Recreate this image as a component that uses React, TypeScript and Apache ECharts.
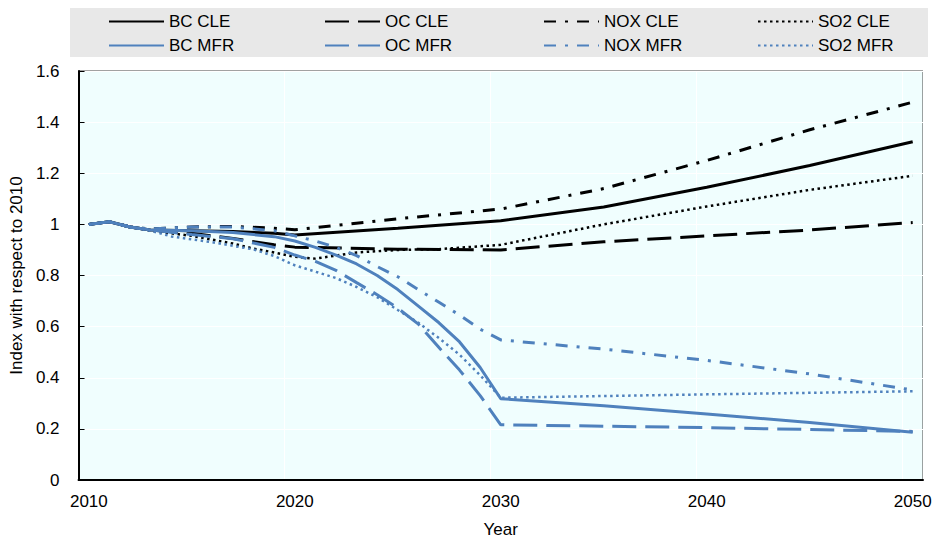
import React, { useEffect, useRef } from "react";
import * as echarts from "echarts";

const categories: string[] = Array.from({ length: 41 }, (_, i) => String(2010 + i));
const yTicks = { min: 0, max: 1.6, interval: 0.2 };

const bcCle: [number, number][] = [[2010,1.0],[2011,1.01],[2012,0.99],[2013,0.978],[2015,0.975],[2017,0.972],[2019,0.965],[2020,0.958],[2025,0.985],[2030,1.014],[2035,1.068],[2040,1.145],[2045,1.23],[2050,1.323]];
const ocCle: [number, number][] = [[2010,1.0],[2011,1.01],[2012,0.99],[2013,0.978],[2015,0.965],[2017,0.945],[2019,0.92],[2020,0.911],[2025,0.903],[2030,0.9],[2035,0.932],[2040,0.955],[2045,0.978],[2050,1.007]];
const noxCle: [number, number][] = [[2010,1.0],[2011,1.01],[2012,0.99],[2013,0.982],[2015,0.99],[2017,0.992],[2019,0.985],[2020,0.979],[2025,1.022],[2030,1.06],[2035,1.14],[2040,1.25],[2045,1.37],[2050,1.478]];
const so2Cle: [number, number][] = [[2010,1.0],[2011,1.01],[2012,0.99],[2013,0.975],[2015,0.955],[2017,0.925],[2018,0.905],[2019,0.89],[2020,0.873],[2021,0.866],[2023,0.89],[2025,0.9],[2027,0.903],[2030,0.92],[2035,1.0],[2040,1.07],[2045,1.135],[2050,1.19]];
const bcMfr: [number, number][] = [[2010,1.0],[2011,1.01],[2012,0.99],[2013,0.978],[2015,0.975],[2017,0.968],[2019,0.952],[2020,0.935],[2021,0.91],[2022,0.88],[2023,0.845],[2024,0.8],[2025,0.745],[2026,0.68],[2027,0.615],[2028,0.54],[2029,0.44],[2030,0.318],[2035,0.29],[2040,0.258],[2045,0.225],[2050,0.187]];
const ocMfr: [number, number][] = [[2010,1.0],[2011,1.01],[2012,0.99],[2013,0.978],[2015,0.96],[2017,0.944],[2019,0.91],[2020,0.88],[2021,0.855],[2022,0.82],[2023,0.772],[2024,0.725],[2025,0.672],[2026,0.61],[2027,0.518],[2028,0.43],[2029,0.33],[2030,0.216],[2040,0.205],[2050,0.19]];
const noxMfr: [number, number][] = [[2010,1.0],[2011,1.01],[2012,0.99],[2013,0.982],[2015,0.99],[2017,0.99],[2019,0.975],[2020,0.955],[2021,0.935],[2022,0.91],[2023,0.878],[2024,0.835],[2025,0.795],[2026,0.745],[2027,0.695],[2028,0.645],[2029,0.59],[2030,0.548],[2035,0.512],[2040,0.468],[2045,0.415],[2050,0.352]];
const so2Mfr: [number, number][] = [[2010,1.0],[2011,1.01],[2012,0.99],[2013,0.975],[2014,0.953],[2016,0.93],[2018,0.902],[2019,0.876],[2020,0.84],[2021,0.815],[2022,0.79],[2023,0.755],[2024,0.715],[2025,0.665],[2026,0.615],[2027,0.555],[2028,0.49],[2029,0.41],[2030,0.322],[2040,0.335],[2050,0.347]];

const FONT = "'Liberation Sans', Arial, sans-serif";
const FS = 17;
const BLACK = "#000000";
const BLUE = "#4f81bd";

const DASH_LONG = [24, 9];
const DASH_DOT = [12, 9, 3, 9];
const DOTS = [2.5, 3.5];

type Def = { name: string; data: [number, number][]; color: string; type: any; width: number; left: number; top: number };

const defs: Def[] = [
  { name: "BC CLE", data: bcCle, color: BLACK, type: "solid", width: 3, left: 108, top: 13 },
  { name: "OC CLE", data: ocCle, color: BLACK, type: DASH_LONG, width: 3, left: 324, top: 13 },
  { name: "NOX CLE", data: noxCle, color: BLACK, type: DASH_DOT, width: 3, left: 543, top: 13 },
  { name: "SO2 CLE", data: so2Cle, color: BLACK, type: DOTS, width: 2.5, left: 757, top: 13 },
  { name: "BC MFR", data: bcMfr, color: BLUE, type: "solid", width: 3, left: 108, top: 37 },
  { name: "OC MFR", data: ocMfr, color: BLUE, type: DASH_LONG, width: 3, left: 324, top: 37 },
  { name: "NOX MFR", data: noxMfr, color: BLUE, type: DASH_DOT, width: 3, left: 543, top: 37 },
  { name: "SO2 MFR", data: so2Mfr, color: BLUE, type: DOTS, width: 2.5, left: 757, top: 37 },
];

export default function App() {
  const ref = useRef<HTMLDivElement>(null);
  useEffect(() => {
    document.body.style.margin = "0";
    if (!ref.current) return;
    const chart = echarts.init(ref.current, null, { renderer: "svg" });
    chart.setOption({
      animation: false,
      textStyle: { fontFamily: FONT },
      graphic: [
        { type: "rect", left: 70, top: 8, z: 0, shape: { width: 858, height: 49 }, style: { fill: "#e8e8e8" } },
      ],
      legend: defs.map((d) => ({
        data: [d.name],
        left: d.left,
        top: d.top,
        padding: 0,
        itemWidth: 55,
        itemHeight: 14,
        selectedMode: false,
        itemStyle: { opacity: 0 },
        textStyle: { fontFamily: FONT, fontSize: FS, color: "#000" },
      })),
      grid: {
        left: 75, top: 71, right: 15, bottom: 58,
        show: true, backgroundColor: "#f0fefe", borderColor: "#444", borderWidth: 1,
      },
      xAxis: {
        type: "category",
        data: categories,
        boundaryGap: true,
        name: "Year",
        nameLocation: "middle",
        nameGap: 41,
        nameTextStyle: { fontFamily: FONT, fontSize: FS, color: "#000" },
        axisLine: { lineStyle: { color: "#000", width: 2 } },
        axisTick: { interval: 9, inside: true, length: 6, lineStyle: { color: "#000", width: 1 } },
        axisLabel: { interval: 9, margin: 13, fontFamily: FONT, fontSize: FS, color: "#000" },
        splitLine: { show: true, interval: 9, lineStyle: { color: "#ffffff", width: 1 } },
      },
      yAxis: {
        type: "value",
        min: yTicks.min,
        max: yTicks.max,
        interval: yTicks.interval,
        name: "Index with respect to 2010",
        nameLocation: "middle",
        nameGap: 50,
        nameTextStyle: { fontFamily: FONT, fontSize: FS, color: "#000" },
        axisLine: { show: true, lineStyle: { color: "#000", width: 2 } },
        axisTick: { show: true, inside: true, length: 6, lineStyle: { color: "#000", width: 1 } },
        axisLabel: { margin: 19, fontFamily: FONT, fontSize: FS, color: "#000" },
        splitLine: { show: true, lineStyle: { color: "#ffffff", width: 1 } },
      },
      series: defs.map((d) => ({
        name: d.name,
        type: "line",
        symbol: "none",
        showSymbol: false,
        connectNulls: true,
        data: d.data.map(([y, v]) => [String(y), v]),
        itemStyle: { color: d.color },
        lineStyle: { color: d.color, width: d.width, type: d.type },
      })),
    });
    return () => chart.dispose();
  }, []);
  return <div ref={ref} style={{ width: 938, height: 543 }} />;
}
